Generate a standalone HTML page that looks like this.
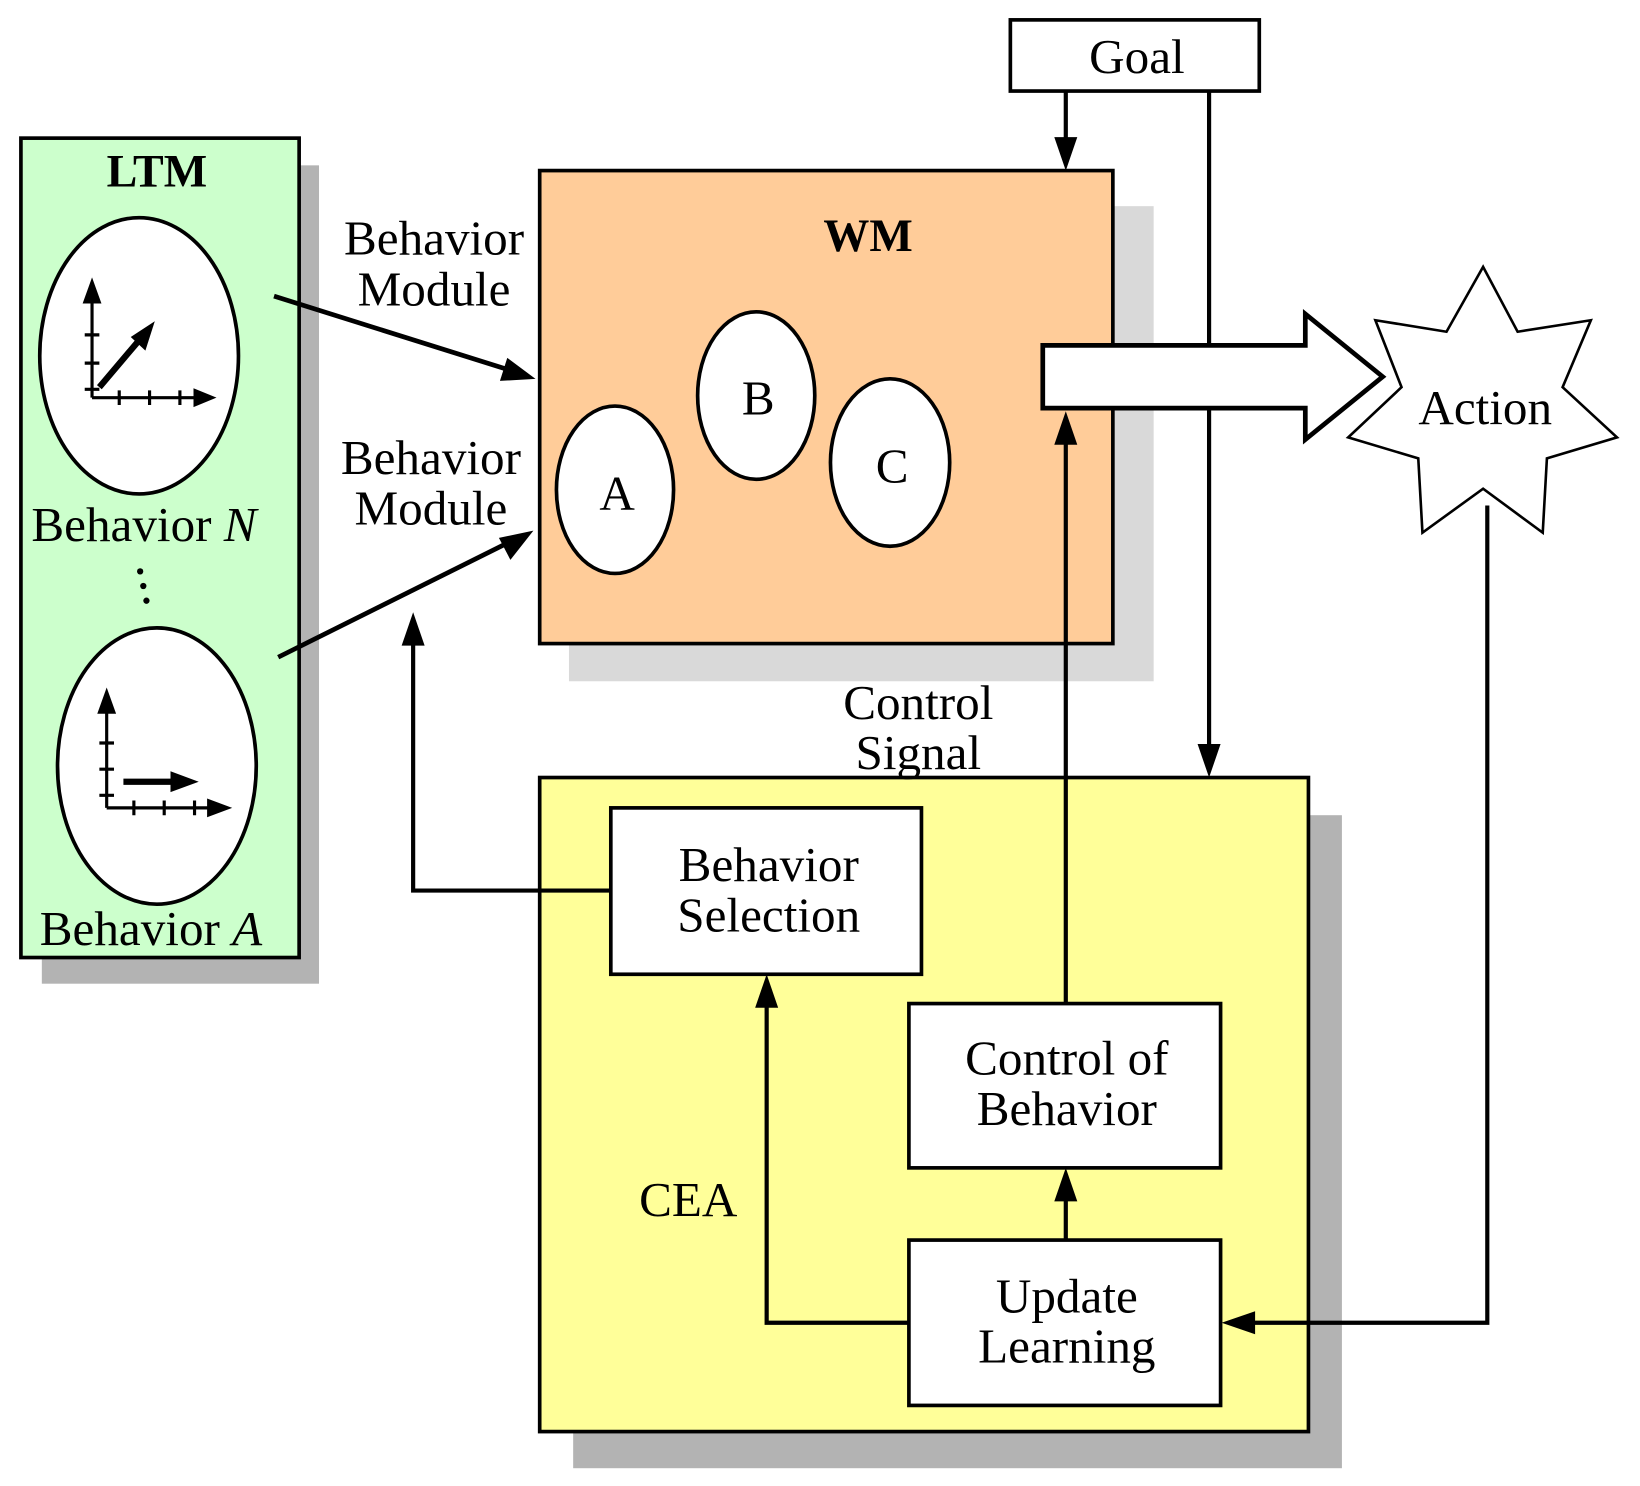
<!DOCTYPE html>
<html><head><meta charset="utf-8"><style>
html,body{margin:0;padding:0;background:#fff;}
svg{display:block;}
text{font-family:"Liberation Serif",serif;font-size:47px;fill:#000;}
</style></head><body>
<svg width="1640" height="1486" viewBox="0 0 1568 1420" preserveAspectRatio="none" xmlns="http://www.w3.org/2000/svg">
<!-- LTM -->
<rect x="40" y="158" width="265" height="782" fill="#b3b3b3"/>
<rect x="20" y="132" width="266" height="783" fill="#ccffcc" stroke="#000" stroke-width="3.5"/>
<text x="150" y="178" text-anchor="middle" font-weight="bold" style="font-size:44px">LTM</text>
<ellipse cx="133" cy="340" rx="95" ry="132" fill="#fff" stroke="#000" stroke-width="3.5"/>
<ellipse cx="150" cy="732" rx="95" ry="132" fill="#fff" stroke="#000" stroke-width="3.5"/>
<g stroke="#000" stroke-width="3" fill="none">
<path d="M88 380 V285 M88 380 H185 M81 320 H95 M81 347 H95 M81 372 H95 M114 373 V387 M143 373 V387 M172 373 V387"/>
<path d="M102 772 V680 M102 772 H200 M95 710 H109 M95 735 H109 M95 760 H109 M128 765 V779 M157 765 V779 M186 765 V779"/>
</g>
<g fill="#000">
<polygon points="88,265 79,290 97,290"/>
<polygon points="207,380 185,371 185,389"/>
<polygon points="102,657 93,682 111,682"/>
<polygon points="222,772 198,763 198,781"/>
<polygon points="148,307 125,322 139,335"/>
<polygon points="190,747 163,737 163,757"/>
</g>
<path d="M95 370 L134 324 M118 747 H165" stroke="#000" stroke-width="6"/>
<text x="30" y="517">Behavior <tspan font-style="italic">N</tspan></text>
<circle cx="134" cy="546" r="3"/><circle cx="137" cy="560" r="3"/><circle cx="140" cy="574" r="3"/>
<text x="38" y="903">Behavior <tspan font-style="italic">A</tspan></text>
<!-- WM -->
<rect x="544" y="197" width="559" height="454" fill="#d9d9d9"/>
<rect x="516" y="163" width="548" height="452" fill="#ffcc99" stroke="#000" stroke-width="3.5"/>
<text x="830" y="240" text-anchor="middle" font-weight="bold" style="font-size:44px">WM</text>
<ellipse cx="588" cy="468" rx="56" ry="80" fill="#fff" stroke="#000" stroke-width="3.5"/>
<ellipse cx="723" cy="378" rx="56" ry="80" fill="#fff" stroke="#000" stroke-width="3.5"/>
<ellipse cx="851" cy="442" rx="57" ry="80" fill="#fff" stroke="#000" stroke-width="3.5"/>
<text x="590" y="487" text-anchor="middle">A</text>
<text x="725" y="396" text-anchor="middle">B</text>
<text x="853" y="461" text-anchor="middle">C</text>
<text x="415" y="243" text-anchor="middle">Behavior</text>
<text x="415" y="292" text-anchor="middle">Module</text>
<text x="412" y="453" text-anchor="middle">Behavior</text>
<text x="412" y="501" text-anchor="middle">Module</text>
<g stroke="#000" stroke-width="4.5">
<line x1="262" y1="283" x2="485" y2="353"/>
<line x1="266" y1="628" x2="485" y2="519"/>
</g>
<polygon points="512,362 478,364 485,342" fill="#000"/>
<polygon points="510,507 477,514 488,535" fill="#000"/>
<!-- CEA -->
<rect x="548" y="779" width="735" height="624" fill="#b3b3b3"/>
<rect x="516" y="743" width="735" height="625" fill="#ffff99" stroke="#000" stroke-width="3.5"/>
<text x="658" y="1162" text-anchor="middle">CEA</text>
<!-- Goal -->
<rect x="966" y="19" width="238" height="68" fill="#fff" stroke="#000" stroke-width="3.5"/>
<text x="1087" y="70" text-anchor="middle">Goal</text>
<line x1="1156" y1="87" x2="1156" y2="715" stroke="#000" stroke-width="4"/>
<!-- block arrow -->
<polygon points="997,330 1248,330 1248,300 1322,360 1248,420 1248,390 997,390" fill="#fff" stroke="#000" stroke-width="4.5"/>
<!-- star -->
<polygon points="1418,255 1451,317 1521,306 1494,370 1546,418 1479,438 1475,509 1418,467 1360,509 1356,438 1289,418 1340,370 1315,306 1383,317" fill="#fff" stroke="#000" stroke-width="2.5"/>
<text x="1420" y="405" text-anchor="middle">Action</text>
<text x="878" y="687" text-anchor="middle">Control</text>
<text x="878" y="735" text-anchor="middle">Signal</text>
<g stroke="#000" stroke-width="4" fill="none">
<line x1="1019" y1="87" x2="1019" y2="135"/>
<line x1="1019" y1="959" x2="1019" y2="420"/>
<line x1="1019" y1="1185" x2="1019" y2="1145"/>
<polyline points="869,1264 733,1264 733,960"/>
<polyline points="584,851 395,851 395,612"/>
<polyline points="1422,483 1422,1264 1195,1264"/>
</g>
<g fill="#000">
<polygon points="1019,163 1008,131 1030,131"/>
<polygon points="1156,743 1145,711 1167,711"/>
<polygon points="1019,393 1008,425 1030,425"/>
<polygon points="1019,1116 1008,1148 1030,1148"/>
<polygon points="733,931 722,963 744,963"/>
<polygon points="395,585 384,617 406,617"/>
<polygon points="1168,1264 1200,1253 1200,1275"/>
</g>
<rect x="584" y="772" width="297" height="159" fill="#fff" stroke="#000" stroke-width="3.5"/>
<text x="735" y="842" text-anchor="middle">Behavior</text>
<text x="735" y="890" text-anchor="middle">Selection</text>
<rect x="869" y="959" width="298" height="157" fill="#fff" stroke="#000" stroke-width="3.5"/>
<text x="1020" y="1027" text-anchor="middle">Control of</text>
<text x="1020" y="1075" text-anchor="middle">Behavior</text>
<rect x="869" y="1185" width="298" height="158" fill="#fff" stroke="#000" stroke-width="3.5"/>
<text x="1020" y="1254" text-anchor="middle">Update</text>
<text x="1020" y="1302" text-anchor="middle">Learning</text>
</svg>
</body></html>
